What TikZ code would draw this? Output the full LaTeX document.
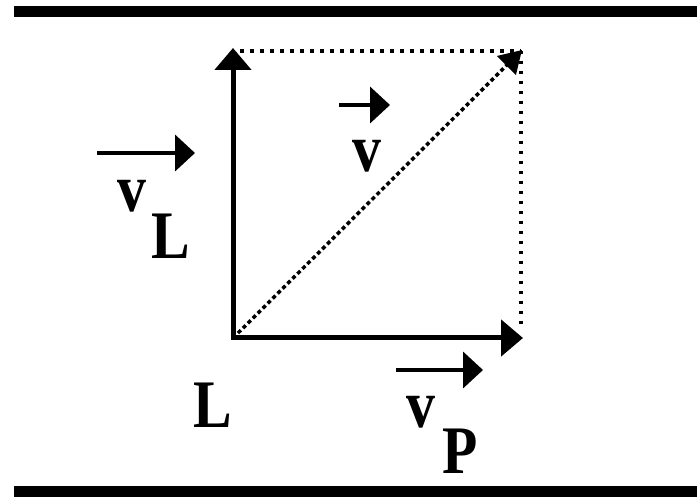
\documentclass[tikz,border=0pt]{standalone}
\usepackage{fontspec}
\setmainfont{Liberation Serif}
\usetikzlibrary{arrows.meta}
\tikzset{
  bar/.style={fill=black, draw=none},
  mainarrow/.style={line width=5pt, -{Triangle[length=22pt,width=36pt]}},
  vecarrow/.style={line width=4pt, -{Triangle[length=20pt,width=36pt]}},
  dotline/.style={line width=3.5pt, dash pattern=on 3.5pt off 6.5pt},
  diagline/.style={line width=3.5pt, dash pattern=on 4pt off 3pt, -{Triangle[length=22pt,width=26pt]}},
  lbl/.style={inner sep=0pt, font=\fontsize{68}{68}\selectfont\bfseries}
}
\newcommand{\nar}[1]{\scalebox{0.85}[1]{#1}}
\begin{document}
\begin{tikzpicture}[x=1pt,y=-1pt]
\useasboundingbox (0,0) rectangle (697,497);
% bars
\fill[bar] (14,6) rectangle (697,17);
\fill[bar] (14,486) rectangle (697,497);
% key points
\coordinate (O) at (233,338);
\coordinate (T) at (233,48);
\coordinate (R) at (523,338);
\coordinate (C) at (522,50);
\coordinate (TL) at (240,51);
\coordinate (TR) at (521,51);
\coordinate (RB) at (521,330);
% dotted completion
\draw[dotline] (TL) -- (TR);
\draw[dotline] (TR) -- (RB);
% diagonal
\draw[diagline] (O) -- (C);
% main arrows
\draw[mainarrow] (O) -- (T);
\draw[mainarrow] ([xshift=-2.5pt]O) -- (R);
% vector arrows
\coordinate (a1) at (97,153);  \coordinate (b1) at (195,153);
\coordinate (a2) at (339,105); \coordinate (b2) at (390,105);
\coordinate (a3) at (396,370); \coordinate (b3) at (483,370);
\draw[vecarrow] (a1) -- (b1);
\draw[vecarrow] (a2) -- (b2);
\draw[vecarrow] (a3) -- (b3);
% labels
\node[lbl] (vL) at (132,196) {\nar{v}};
\node[lbl] (L1) at (171,236) {\nar{L}};
\node[lbl] (v) at (367,156) {\nar{v}};
\node[lbl] (L2) at (213,405) {\nar{L}};
\node[lbl] (vP) at (421,412) {\nar{v}};
\node[lbl] (P) at (460,451) {\nar{P}};
\end{tikzpicture}
\end{document}
